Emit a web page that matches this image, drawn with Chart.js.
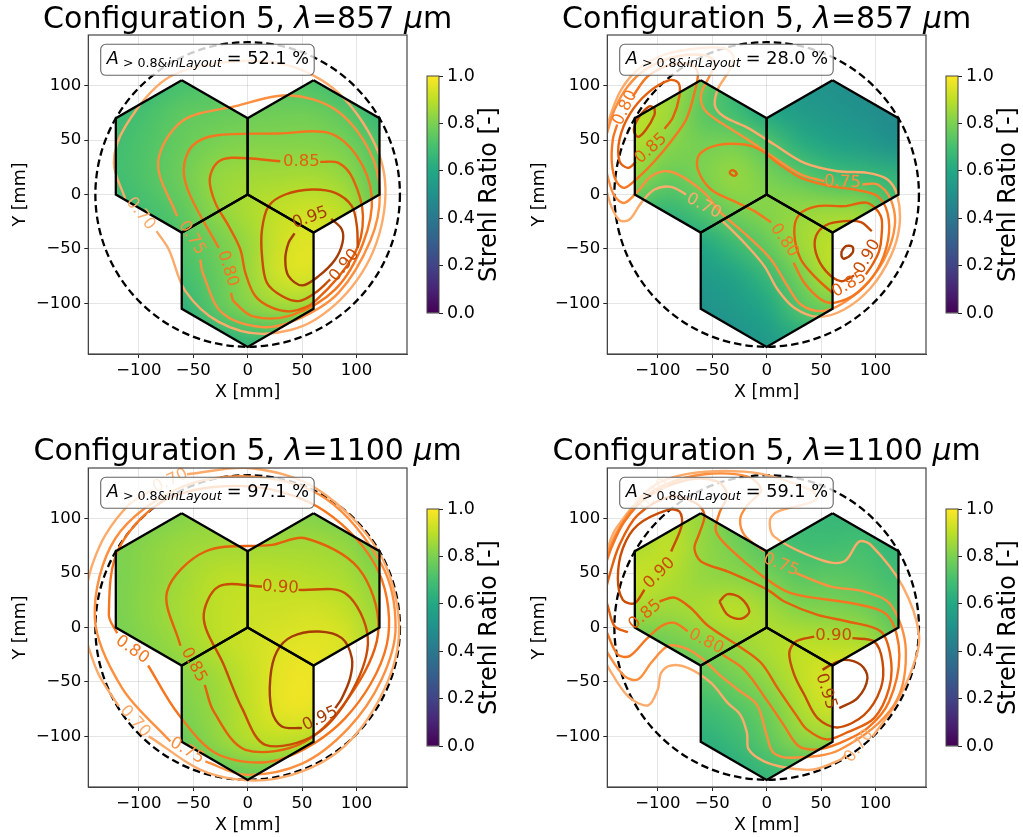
<!DOCTYPE html>
<html>
<head>
<meta charset="utf-8">
<title>Configuration 5 Strehl maps</title>
<script src="https://cdn.jsdelivr.net/npm/chart.js@4"></script>
<style>
  html, body { margin: 0; background: #fff; }
  canvas { position: absolute; }
</style>
</head>
<body>
<script>
// grid the strehl maps are sampled on [mm]
const fieldX = [-120, -90, -60, -30, 0, 30, 60, 90, 120];
const fieldY = [105, 75, 45, 15, -15, -45, -75, -105, -135];

const fieldA = [
  [.58, .66, .70, .72, .73, .73, .71, .66, .58],
  [.67, .71, .75, .76, .77, .78, .78, .74, .66],
  [.695, .725, .765, .80, .815, .815, .815, .795, .72],
  [.69, .73, .78, .84, .86, .865, .87, .84, .745],
  [.66, .70, .75, .83, .875, .91, .925, .895, .75],
  [.60, .65, .72, .78, .845, .93, .96, .89, .70],
  [.55, .60, .695, .755, .845, .935, .945, .84, .62],
  [.50, .55, .64, .74, .815, .85, .83, .65, .50],
  [.45, .50, .55, .62, .66, .66, .62, .50, .45]
];
const fieldB = [
  [.82, .86, .78, .66, .55, .52, .50, .48, .45],
  [.90, .86, .745, .69, .60, .55, .52, .50, .47],
  [.88, .82, .79, .80, .735, .63, .58, .55, .50],
  [.83, .76, .80, .845, .80, .755, .70, .68, .65],
  [.69, .66, .72, .79, .82, .84, .85, .84, .68],
  [.55, .56, .60, .68, .76, .855, .905, .91, .695],
  [.50, .50, .54, .58, .665, .79, .895, .84, .60],
  [.45, .46, .50, .54, .59, .72, .78, .60, .50],
  [.42, .44, .47, .50, .54, .60, .60, .50, .45]
];
const fieldC = [
  [.77, .79, .815, .83, .83, .81, .81, .78, .74],
  [.80, .825, .85, .86, .86, .86, .86, .84, .78],
  [.80, .83, .86, .895, .905, .90, .89, .875, .82],
  [.80, .835, .87, .90, .92, .925, .935, .91, .85],
  [.79, .82, .855, .895, .925, .95, .96, .945, .855],
  [.75, .79, .82, .855, .91, .965, .975, .91, .79],
  [.70, .75, .80, .845, .905, .965, .965, .87, .74],
  [.65, .71, .765, .83, .885, .90, .88, .79, .68],
  [.60, .65, .70, .745, .77, .775, .72, .65, .60]
];
const fieldD = [
  [.78, .875, .845, .765, .69, .68, .66, .66, .60],
  [.87, .91, .84, .79, .73, .69, .69, .70, .65],
  [.925, .885, .84, .83, .80, .745, .75, .73, .69],
  [.86, .85, .875, .905, .865, .82, .81, .79, .73],
  [.75, .78, .81, .84, .88, .90, .895, .88, .77],
  [.68, .74, .745, .79, .84, .905, .95, .95, .78],
  [.66, .68, .68, .72, .78, .875, .93, .88, .74],
  [.60, .62, .63, .67, .745, .825, .83, .77, .65],
  [.55, .57, .58, .62, .66, .69, .67, .60, .55]
];

// segment outlines [mm]
const hexLeft = [[-60.6, 105], [0, 70], [0, 0], [-60.6, -35], [-121.2, 0], [-121.2, 70], [-60.6, 105]];
const hexRight = [[60.6, 105], [121.2, 70], [121.2, 0], [60.6, -35], [0, 0], [0, 70], [60.6, 105]];
const hexBottom = [[0, 0], [60.6, -35], [60.6, -105], [0, -140], [-60.6, -105], [-60.6, -35], [0, 0]];
const layoutRadius = 140;

// contour lines, split where a label sits
const a70 = [[-112.3, -4.6], [-123, 29], [-112.3, 62.7], [-75.6, 105.6], [-26.6, 120.9], [34.6, 119.3], [83.5, 93.3], [120.3, 38.3], [125.5, -15], [105, -72], [62, -115], [15, -128], [-26.6, -117], [-57.2, -88.7], [-72.5, -50.5], [-83.8, -33.7]];
const a75 = [[-64.9, -19.9], [-82.3, 29], [-60.3, 67.3], [-11.3, 81.1], [37.6, 91.2], [80.5, 78], [112, 40], [121.5, 0], [113, -42], [83.5, -90.3], [45, -115], [13.2, -121.8], [-23.6, -108.6], [-41.3, -71.9], [-43.5, -59.7]];
const a80 = [[-26.6, -49], [-52.6, -1.5], [-58.8, 23], [-51.1, 44.4], [-29.7, 54.2], [28.5, 56], [74.4, 56.6], [100, 36], [114.1, -1.5], [106, -45], [80.5, -87.2], [40, -111], [5, -112], [-12.9, -97.9], [-15.3, -90.3]];
const a85 = [[66.7, 30], [83.5, 29], [97, 14], [106, -20], [98, -55], [62.1, -97.9], [40.7, -107.1], [22.3, -104], [7, -93.3], [-2.1, -71.9], [-6.7, -50.5], [-17.4, -29], [-29.7, -7.7], [-34.9, 13.8], [-28.2, 29], [-14.4, 33.7], [30, 30.6]];
const a90 = [[101.3, -49], [100.4, -29], [95.8, -10.7], [80.5, 1.5], [59, 4.6], [34.6, 0], [19.3, -10.7], [13.2, -32.1], [13.2, -56.6], [17.7, -81.1], [31.5, -93.3], [46.8, -97.9], [62.1, -90.3], [75.9, -78]];
const a95 = [[76.8, -22.3], [86.6, -32.1], [87.2, -44.4], [80.5, -59.7], [65.2, -75], [49.9, -83.5], [37.6, -75], [34.6, -59.7], [37.6, -44.4], [43.1, -35.8]];

const b70a = [[-41.9, -23], [-20.5, -44.4], [-2.1, -65.8], [10.1, -87.2], [25.4, -104], [46.8, -112.3], [71.3, -105.6], [95.8, -85.7], [114.1, -56.6], [122.1, -29], [120.3, -1.5], [111.1, 13.8], [92.7, 19.9], [65.2, 21.4], [34.6, 29], [7, 45.9], [-17.4, 61.2], [-38.9, 71.3], [-47.4, 81.1], [-45, 96.4], [-35.8, 111.7], [-30.3, 125.5], [-37.3, 133.7], [-60.3, 134.6], [-93.9, 128.5], [-118.4, 114.8], [-133.7, 96.4], [-142.9, 75], [-149, 53.6]];
const b70b = [[-74, 0], [-87.8, 7], [-103.1, 4.6], [-115.4, -7.7], [-126.1, -23], [-135.3, -23.6], [-142.9, -10.7], [-149, 10.7]];
const b75a = [[88.1, 9.2], [101.9, 9.2], [114.1, -4.6], [117.8, -29], [108, -59.7], [89.7, -84.2], [68.2, -101], [49.9, -107.1], [31.5, -101], [19.3, -84.2], [4, -59.7], [-17.4, -38.3], [-41.9, -16.8], [-57.2, 1.5], [-75.6, 15.3], [-90.9, 21.4], [-106.2, 16.8], [-118.4, 3.1], [-130.7, -7.7], [-139.8, -1.5], [-145.4, 13.8], [-149, 29]];
const b75b = [[52.9, 12.2], [31.5, 18.4], [7, 33.7], [-17.4, 50.5], [-41.9, 65.8], [-57.2, 78], [-60.3, 91.8], [-52.6, 108.6], [-47.4, 120.9], [-55.7, 127.6], [-81.7, 127], [-109.2, 116.3], [-127.6, 99.5], [-139.8, 78], [-147.5, 53.6]];
const b80a = [[24.8, -62.7], [34.6, -81.1], [49.9, -96.4], [62.1, -99.5], [83.5, -90.3], [101.9, -68.9], [111.7, -41.3], [111.1, -16.8], [101.9, -1.5], [83.5, 4], [59, 7.7], [31.5, 15.3], [10.1, 29], [-5.2, 40.7], [-20.5, 45.9], [-45, 45.3], [-61.8, 36.7], [-63.3, 23], [-51.1, 4.6], [-26.6, -7.7], [-11.3, -15.3], [4, -25.4]];
const b80b = [[-123, 90.3], [-109.2, 108.6], [-87.8, 119.3], [-69.5, 119.3], [-63.3, 111.7], [-66.4, 93.3], [-74, 68.9], [-87.8, 49], [-103.1, 30.6], [-118.4, 15.3], [-130.7, 6.1], [-138.3, 12.2], [-142.3, 29], [-141.4, 50.5], [-137.4, 64.3]];
const b85a = [[-34, 21.4], [-31.2, 22.3], [-27.5, 19], [-29.7, 17.1], [-33.4, 19], [-34, 21.4]];
const b85b = [[-93.9, 60.3], [-86.3, 70.4], [-80.2, 90.3], [-81.1, 102.5], [-89.4, 105], [-109.2, 93.3], [-126.1, 73.4], [-135.3, 50.5], [-135.3, 30.6], [-127.6, 24.5], [-120, 30]];
const b85c = [[60.6, -90.3], [46.8, -78], [31.5, -59.7], [25.4, -35.2], [30, -18.4], [46.8, -10.7], [71.3, -10.7], [92.7, -7.7], [105, -19.9], [105.6, -38.3], [103.4, -52], [97.3, -64.3], [91.2, -73.4]];
const b90a = [[96.7, -33.7], [86.6, -25.4], [71.3, -24.5], [54.5, -28.2], [45.3, -38.3], [45.3, -53.6], [54.5, -70.4], [68.2, -79.6], [80.5, -74.4]];
const b90b = [[-103.1, 79.6], [-107.7, 81.1], [-116.9, 71.9], [-122.1, 59.7], [-118.4, 52.9], [-110.8, 59.7], [-103.1, 73.4], [-103.1, 79.6]];
const b95 = [[68.9, -52], [72.9, -47.4], [78.9, -48], [78.9, -53.6], [71.3, -59], [68.9, -56.6], [68.9, -52]];

const c70a = [[-55.7, 140.8], [4, 146.3], [65.2, 126.4], [120.3, 69.8], [139.2, 2.4], [125, -58], [83.5, -113.8], [25, -139], [-35.8, -133.7], [-90.9, -100]];
const c70b = [[-118.4, -72.5], [-136.8, -43.5], [-146, -19], [-149, -6.7]];
const c70c = [[-87.8, 126.4], [-109.2, 112.6], [-130.7, 85], [-142.9, 57.5], [-149, 33]];
const c75 = [[-38.9, -123], [-2.1, -135.3], [50, -125], [92.7, -92.4], [123, -48], [136, 0], [123.3, 57.5], [71.3, 118.7], [4, 138.6], [-63.3, 127.9], [-121.5, 82], [-140.5, 8.6], [-115.4, -55.7], [-71, -104.7]];
const c80 = [[-91.5, -34.9], [-63.3, -80.2], [-26.6, -116.9], [28.5, -121.5], [89.7, -83.2], [127.9, -15.9], [120.3, 51.4], [71.3, 106.5], [4, 129.4], [-72.5, 118.7], [-118.4, 72.8], [-127.6, 11.6], [-120, -5.2]];
const c85 = [[-61.8, -16.8], [-74.1, 33], [-38.9, 69.8], [22.3, 75.9], [52.9, 82], [101.9, 54.5], [120.3, -0.6], [98.8, -55.7], [52.9, -104.7], [-2.1, -112.3], [-31.2, -77.1], [-39.5, -52.6]];
const c90 = [[46.8, 34.6], [89.7, 31.5], [110.5, -9.8], [95.8, -58.8], [62.1, -98.5], [16.2, -107.7], [-5.2, -74.1], [-22, -34.3], [-40.4, 8.6], [-26.6, 37.6], [13.2, 37.6]];
const c95 = [[49.9, -92.4], [31.5, -90.9], [22.3, -77.1], [20.8, -46.5], [26.9, -22], [40.7, -8.3], [65.2, -3.7], [86.6, -9.8], [95.8, -28.2], [94.2, -46.5], [86.6, -64.9], [80.5, -74.1]];

const d70a = [[-149, -28.2], [-145.4, -37], [-127.6, -63], [-109.2, -71.6], [-100.1, -56.9], [-97, -41.6], [-87.8, -34.9], [-72.5, -37], [-51.1, -50.8], [-35.8, -69.2], [-24.2, -80.2], [-18.1, -96.7], [-16.5, -112], [-2.8, -122.7], [18.7, -128.8], [43.1, -130.4], [67.6, -121.5], [72.8, -116.9]];
const d70b = [[97.3, -100.1], [117.2, -72.5], [134, -37.3], [140.1, -6.7], [125, 38], [95.8, 75.9], [85.1, 78.9], [71.3, 60.6], [49.9, 62.1], [7, 83.5], [3.1, 98.8], [10.1, 106.5], [45.3, 117.2], [40.7, 126.4], [-20.5, 143.2], [-97, 134], [-138.3, 91.2], [-149, 63.6]];
const d75a = [[26.9, 49.9], [59.1, 37.6], [89.7, 33], [114.1, 20.8], [127.9, -20], [117.2, -71], [67.6, -112], [24.8, -119.6], [6.4, -115.1], [0.3, -99.8], [-8.9, -71], [-26.6, -56.9], [-41.9, -44.7], [-60.3, -27.8], [-75.6, -18.7], [-90.9, -17.1], [-106.2, -32.4], [-118.4, -47.7], [-130.7, -44.7], [-145.4, -24.8], [-149, -15.9]];
const d75b = [[-2.1, 69.8], [-20.5, 85.1], [-24.2, 100.4], [-17.4, 112.6], [-5.2, 126.4], [-17.4, 138.6], [-57.2, 140.8], [-93.9, 131], [-120, 112.6], [-138.3, 86.6], [-149, 60.6]];
const d80a = [[-40.4, -25.1], [-20.5, -38.9], [0.9, -67.9], [15.6, -89.4], [29.4, -108.9], [46.2, -112], [67.6, -105.9], [92.7, -92.4], [112.6, -67.9], [122, -25], [112, 10], [85, 21], [22.3, 31.5], [-5.2, 48.3], [-32.7, 71.3], [-46.5, 88.1], [-43.5, 105], [-36.4, 121.8], [-45, 134], [-72.5, 135.6], [-109.2, 120.3], [-130.7, 97.3], [-142.9, 72.8], [-149, 54.5]];
const d80b = [[-72.5, -3.4], [-84.8, 4.3], [-97, 1.2], [-110.8, -11], [-126.1, -26.3], [-136.8, -24.8], [-145.4, -8], [-149, 2.4]];
const d85a = [[-98.5, 23.9], [-84.8, 27.5], [-69.5, 17.7], [-54.2, 1.8], [-26.6, -16.5], [-5.2, -32.4], [10.1, -55.7], [27.8, -81.4], [37, -93.6], [55.4, -102.8], [74.4, -96.1], [98.8, -83.2], [112.6, -55.7], [114.1, -28.2], [105, -3.7], [74.4, 5.5], [46.8, 11.6], [16.2, 23.9], [0.9, 34.6], [-35.8, 51.4], [-60.3, 60.6], [-66.4, 72.8], [-61.8, 86.6], [-57.2, 103.4], [-64.9, 114.1], [-87.8, 120.3], [-118.4, 103.4], [-135.3, 75.9], [-144.4, 48.3], [-149, 30]];
const d85b = [[-127.6, -4.3], [-139.8, 1.2], [-146, 19.6], [-149, 30]];
const d90a = [[-87.8, 69.8], [-78, 94.2], [-80.2, 106.5], [-90.9, 108], [-118.4, 94.2], [-132.2, 72.8], [-136.8, 45.3], [-132.2, 25.4], [-121.5, 22.3], [-112.3, 34.6]];
const d90b = [[-43.5, 23.9], [-35.8, 30.6], [-23.6, 26.9], [-15.9, 14.7], [-23.6, 8], [-35.8, 11.6], [-43.5, 23.9]];
const d90c = [[78.9, -9.8], [98.8, -12.9], [106.5, -31.2], [105, -55.7], [89.7, -80.2], [65.2, -91.8], [46.8, -83.2], [34.6, -61.8], [25.4, -43.5], [20.8, -23.6], [26.9, -12.9], [43.8, -8.3]];
const d95 = [[66.7, -74.1], [83.5, -64.9], [92.7, -46.5], [86.6, -34.3], [71.3, -29.7], [59.1, -34.3], [51.4, -38.9]];

// [level text, x, y, rotation in degrees]
const labelsA = [['0.70', -98.5, -17.7, 52], ['0.75', -51.1, -39.8, 58], ['0.80', -18.4, -68.2, 72], ['0.85', 49.3, 30, 0], ['0.90', 89, -65.2, -50], ['0.95', 57.5, -21.4, -20]];
const labelsB = [['0.70', -57.8, -10.7, 28], ['0.75', 69.8, 11.3, 2], ['0.80', 16.2, -42.2, 55], ['0.80', -130, 79.6, -65], ['0.85', -106.2, 42.2, -42], ['0.85', 75.9, -82.6, -30], ['0.90', 92.7, -57.2, -60]];
const labelsC = [['0.70', -71, 134.6, -25], ['0.70', -103.7, -86.3, 48], ['0.75', -55.7, -113.2, 30], ['0.80', -106.2, -20.5, 35], ['0.85', -49.6, -34.3, 62], ['0.90', 30, 36.7, 3], ['0.95', 66.7, -83.8, -25]];
const labelsD = [['0.70', -103, 121.8, -50], ['0.70', 85, -109, -52], ['0.75', 13.2, 57.5, 22], ['0.80', -55.7, -12.9, 27], ['0.85', -111.7, 11.6, -40], ['0.90', -98.5, 49.9, -45], ['0.90', 61.5, -7.3, 0], ['0.95', 54.5, -58.8, 72]];

const contourColors = { '0.70': '#fdab6b', '0.75': '#fd8f3f', '0.80': '#f5761f', '0.85': '#e4600d', '0.90': '#c94c04', '0.95': '#a63c05' };
const viridis = ['#440154', '#482475', '#414487', '#355f8d', '#2a788e', '#21918c', '#22a884', '#44bf70', '#7ad151', '#bddf26', '#fde725'];
const xyTicks = [-100, -50, 0, 50, 100];
const axisLimit = 146.5;
const font = '"DejaVu Sans"';

const panels = [
  { left: 0, top: 0, base: 28, wave: '857', area: '52.1', field: fieldA, labels: labelsA,
    lines: [['0.95', a95], ['0.90', a90], ['0.85', a85], ['0.80', a80], ['0.75', a75], ['0.70', a70]] },
  { left: 519, top: 0, base: 28, wave: '857', area: '28.0', field: fieldB, labels: labelsB,
    lines: [['0.95', b95], ['0.90', b90a], ['0.90', b90b], ['0.85', b85a], ['0.85', b85b], ['0.85', b85c], ['0.80', b80a], ['0.80', b80b], ['0.75', b75a], ['0.75', b75b], ['0.70', b70a], ['0.70', b70b]] },
  { left: 0, top: 433, base: 26.5, wave: '1100', area: '97.1', field: fieldC, labels: labelsC,
    lines: [['0.95', c95], ['0.90', c90], ['0.85', c85], ['0.80', c80], ['0.75', c75], ['0.70', c70a], ['0.70', c70b], ['0.70', c70c]] },
  { left: 519, top: 433, base: 26.5, wave: '1100', area: '59.1', field: fieldD, labels: labelsD,
    lines: [['0.95', d95], ['0.90', d90a], ['0.90', d90b], ['0.90', d90c], ['0.85', d85a], ['0.85', d85b], ['0.80', d80a], ['0.80', d80b], ['0.75', d75a], ['0.75', d75b], ['0.70', d70a], ['0.70', d70b]] }
];

const toPoints = pts => pts.map(p => ({ x: p[0], y: p[1] }));

function viridisColor(v) {
  const t = Math.min(Math.max(v, 0), 1) * 10;
  const i = Math.min(Math.floor(t), 9);
  const c = [viridis[i], viridis[i + 1]].map(h => [1, 3, 5].map(k => parseInt(h.slice(k, k + 2), 16)));
  return c[0].map((a, k) => a + (c[1][k] - a) * (t - i));
}

// text made of runs with their own font, left aligned from x
function drawRuns(ctx, x, y, runs) {
  runs.forEach(r => {
    ctx.font = r[1];
    ctx.fillText(r[0], x, y);
    x += ctx.measureText(r[0]).width;
  });
}

function fieldCanvas(field) {
  const off = document.createElement('canvas');
  off.width = fieldX.length;
  off.height = fieldY.length;
  const c = off.getContext('2d');
  const img = c.createImageData(off.width, off.height);
  field.forEach((row, j) => row.forEach((v, i) => {
    const rgb = viridisColor(v);
    img.data.set([rgb[0], rgb[1], rgb[2], 255], (j * off.width + i) * 4);
  }));
  c.putImageData(img, 0, 0);
  return off;
}

function panelPlugin(panel) {
  const image = fieldCanvas(panel.field);
  return {
    id: 'panelExtras',
    beforeDatasetsDraw(chart) {
      const { ctx, scales: { x, y } } = chart;
      // strehl map, only inside the three segments
      ctx.save();
      ctx.beginPath();
      [hexLeft, hexRight, hexBottom].forEach(h => {
        h.forEach((p, i) => {
          const px = x.getPixelForValue(p[0]), py = y.getPixelForValue(p[1]);
          if (i === 0) ctx.moveTo(px, py); else ctx.lineTo(px, py);
        });
        ctx.closePath();
      });
      ctx.clip();
      ctx.imageSmoothingEnabled = true;
      ctx.imageSmoothingQuality = 'high';
      const x0 = x.getPixelForValue(fieldX[0] - 15), x1 = x.getPixelForValue(fieldX[8] + 15);
      const y0 = y.getPixelForValue(fieldY[0] + 15), y1 = y.getPixelForValue(fieldY[8] - 15);
      ctx.drawImage(image, x0, y0, x1 - x0, y1 - y0);
      ctx.restore();
      // layout circle
      ctx.save();
      ctx.beginPath();
      ctx.arc(x.getPixelForValue(0), y.getPixelForValue(0), x.getPixelForValue(layoutRadius) - x.getPixelForValue(0), 0, 2 * Math.PI);
      ctx.setLineDash([7.5, 4]);
      ctx.lineWidth = 2.3;
      ctx.strokeStyle = '#000';
      ctx.stroke();
      ctx.restore();
    },
    afterDatasetsDraw(chart) {
      const { ctx, chartArea: a, scales: { x, y } } = chart;
      ctx.save();
      ctx.textAlign = 'center';
      ctx.textBaseline = 'middle';
      ctx.font = '16.5px ' + font;
      panel.labels.forEach(l => {
        ctx.save();
        ctx.translate(x.getPixelForValue(l[1]), y.getPixelForValue(l[2]));
        ctx.rotate(l[3] * Math.PI / 180);
        ctx.fillStyle = contourColors[l[0]];
        ctx.fillText(l[0], 0, 0);
        ctx.restore();
      });
      ctx.restore();

      // frame
      ctx.save();
      ctx.strokeStyle = '#444';
      ctx.lineWidth = 1.2;
      ctx.strokeRect(a.left, a.top, a.width, a.height);
      ctx.restore();

      // area box
      ctx.save();
      const bx = a.left + 12.4, by = a.top + 9.3;
      ctx.beginPath();
      ctx.roundRect(bx, by, 213.5, 31, 5);
      ctx.fillStyle = 'rgba(255,255,255,0.8)';
      ctx.fill();
      ctx.strokeStyle = '#666';
      ctx.lineWidth = 1.1;
      ctx.stroke();
      ctx.fillStyle = '#000';
      ctx.textAlign = 'left';
      ctx.textBaseline = 'alphabetic';
      drawRuns(ctx, bx + 6, by + 19.7, [['A', 'italic 17.7px ' + font]]);
      drawRuns(ctx, bx + 22.3, by + 22.4, [['> 0.8&', '12.6px ' + font], ['inLayout', 'italic 12.6px ' + font]]);
      drawRuns(ctx, bx + 126, by + 19.7, [['= ' + panel.area + ' %', '17.7px ' + font]]);
      ctx.restore();

      // title, lambda and mu in italics
      ctx.save();
      ctx.fillStyle = '#000';
      ctx.textAlign = 'left';
      ctx.textBaseline = 'alphabetic';
      const normal = '30px ' + font, slant = 'italic 30px ' + font;
      const runs = [['Configuration 5, ', normal], ['\u03bb', slant], ['=' + panel.wave + ' ', normal], ['\u03bc', slant], ['m', normal]];
      let w = 0;
      runs.forEach(r => { ctx.font = r[1]; w += ctx.measureText(r[0]).width; });
      drawRuns(ctx, (a.left + a.right) / 2 - w / 2, panel.base, runs);
      ctx.restore();
    }
  };
}

function colorbarPlugin() {
  return {
    id: 'colorbarExtras',
    afterDraw(chart) {
      const { ctx, chartArea: a } = chart;
      ctx.save();
      ctx.strokeStyle = '#444';
      ctx.lineWidth = 1;
      ctx.strokeRect(a.left, a.top, a.width, a.height);
      ctx.translate(75, (a.top + a.bottom) / 2);
      ctx.rotate(-Math.PI / 2);
      ctx.textAlign = 'center';
      ctx.textBaseline = 'middle';
      ctx.fillStyle = '#000';
      ctx.font = '24px ' + font;
      ctx.fillText('Strehl Ratio [-]', 0, 0);
      ctx.restore();
    }
  };
}

function addCanvas(left, top, w, h, z) {
  const cv = document.createElement('canvas');
  cv.width = w;
  cv.height = h;
  cv.style.left = left + 'px';
  cv.style.top = top + 'px';
  cv.style.zIndex = z;
  document.body.appendChild(cv);
  return cv;
}

function xyScale(title, fixed) {
  return {
    type: 'linear',
    min: -axisLimit,
    max: axisLimit,
    afterFit: fixed,
    afterBuildTicks: s => { s.ticks = xyTicks.map(v => ({ value: v })); },
    grid: { color: 'rgba(0,0,0,0.1)', lineWidth: 1, tickColor: '#222', tickLength: 4 },
    border: { color: '#444', width: 1 },
    ticks: {
      color: '#000',
      padding: 3,
      maxRotation: 0,
      font: { family: font, size: 16.5 },
      callback: v => String(v).replace('-', '\u2212')
    },
    title: { display: true, text: title, color: '#000', padding: { top: 2, bottom: 2 }, font: { family: font, size: 17.5 } }
  };
}

panels.forEach(panel => {
  const hexes = [hexLeft, hexRight, hexBottom].map(h => ({
    data: toPoints(h), showLine: true, pointRadius: 0, borderColor: '#000', borderWidth: 2.3, tension: 0
  }));
  const contours = panel.lines.map(l => ({
    label: l[0], data: toPoints(l[1]), showLine: true, pointRadius: 0,
    borderColor: contourColors[l[0]], borderWidth: 2.4, tension: 0.33, capBezierPoints: false
  }));
  new Chart(addCanvas(panel.left, panel.top, 515, 405, 1), {
    type: 'scatter',
    data: { datasets: hexes.concat(contours) },
    options: {
      responsive: false,
      animation: false,
      events: [],
      layout: { padding: { left: 8.3, right: 108, top: 35, bottom: 0 } },
      plugins: { legend: { display: false }, tooltip: { enabled: false }, title: { display: false } },
      scales: {
        x: xyScale('X [mm]', s => { s.height = 51; }),
        y: xyScale('Y [mm]', s => { s.width = 80; })
      }
    },
    plugins: [panelPlugin(panel)]
  });

  new Chart(addCanvas(panel.left + 415, panel.top + 60, 100, 270, 2), {
    type: 'bar',
    data: {
      labels: ['Strehl Ratio'],
      datasets: [{
        data: [[0, 1]],
        barPercentage: 1,
        categoryPercentage: 1,
        backgroundColor: ctx => {
          const a = ctx.chart.chartArea;
          if (!a) return viridis[5];
          const g = ctx.chart.ctx.createLinearGradient(0, a.bottom, 0, a.top);
          viridis.forEach((c, i) => g.addColorStop(i / 10, c));
          return g;
        }
      }]
    },
    options: {
      responsive: false,
      animation: false,
      events: [],
      layout: { padding: { left: 12, right: 0, top: 16, bottom: 17 } },
      plugins: { legend: { display: false }, tooltip: { enabled: false } },
      scales: {
        x: { display: false },
        y: {
          position: 'right',
          min: 0,
          max: 1,
          afterFit: s => { s.width = 76; },
          afterBuildTicks: s => { s.ticks = [0, 0.2, 0.4, 0.6, 0.8, 1].map(v => ({ value: v })); },
          grid: { drawOnChartArea: false, tickColor: '#222', tickLength: 4 },
          border: { display: false },
          ticks: { color: '#000', padding: 4, font: { family: font, size: 17.5 }, callback: v => v.toFixed(1) }
        }
      }
    },
    plugins: [colorbarPlugin()]
  });
});
</script>
</body>
</html>
